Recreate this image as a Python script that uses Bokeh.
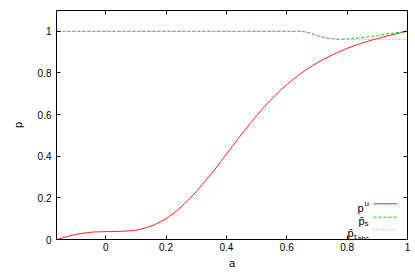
from bokeh.plotting import figure
from bokeh.models import LinearAxis, FixedTicker, Label, Arrow, ColumnDataSource
from bokeh.embed import file_html
from bokeh.resources import INLINE

# ---- data ----
a_vals = [-0.16, -0.14, -0.12, -0.10, -0.08, -0.06, -0.04, -0.02, 0.00, 0.02,
          0.04, 0.06, 0.08, 0.10, 0.12, 0.14, 0.16, 0.18, 0.20, 0.22,
          0.24, 0.26, 0.28, 0.30, 0.32, 0.34, 0.36, 0.38, 0.40, 0.42,
          0.44, 0.46, 0.48, 0.50, 0.52, 0.54, 0.56, 0.58, 0.60, 0.62,
          0.64, 0.66, 0.68, 0.70, 0.72, 0.74, 0.76, 0.78, 0.80, 0.82,
          0.84, 0.86, 0.88, 0.90, 0.92, 0.94, 0.96, 0.98, 1.00]
p_u = [0.000, 0.009, 0.017, 0.024, 0.029, 0.033, 0.036, 0.037, 0.038, 0.038,
       0.039, 0.040, 0.042, 0.045, 0.051, 0.059, 0.070, 0.084, 0.100, 0.120,
       0.143, 0.170, 0.199, 0.230, 0.263, 0.298, 0.334, 0.372, 0.410, 0.448,
       0.486, 0.523, 0.560, 0.595, 0.628, 0.660, 0.690, 0.718, 0.744, 0.768,
       0.790, 0.811, 0.830, 0.848, 0.864, 0.879, 0.893, 0.906, 0.918, 0.929,
       0.939, 0.948, 0.957, 0.965, 0.973, 0.980, 0.987, 0.994, 1.000]
p_s = [1.0] * 41 + [0.998, 0.990, 0.980, 0.972, 0.966, 0.963, 0.962, 0.963, 0.965,
                    0.968, 0.972, 0.976, 0.980, 0.985, 0.989, 0.993, 0.997, 1.000]
p_tau = [1.0] * 41 + [0.998, 0.990, 0.980, 0.972, 0.966, 0.963, 0.962, 0.962, 0.962,
                      0.962, 0.962, 0.962, 0.962, 0.962, 0.962, 0.962, 0.962, 0.962]

x_ticks = [0, 0.2, 0.4, 0.6, 0.8, 1]
x_tick_labels = ["0", "0.2", "0.4", "0.6", "0.8", "1"]
y_ticks = [0, 0.2, 0.4, 0.6, 0.8, 1]
y_tick_labels = ["0", "0.2", "0.4", "0.6", "0.8", "1"]

src = ColumnDataSource(dict(a=a_vals, pu=p_u, ps=p_s, pt=p_tau))

FONT = "Liberation Sans"
RED, GREEN, MAG = "#ff2020", "#00e000", "#ff40ff"

p = figure(frame_width=351, frame_height=229, x_range=(-0.163, 1.0), y_range=(0, 1.1),
           output_backend="svg", toolbar_location=None,
           min_border_left=56, min_border_right=6, min_border_top=10, min_border_bottom=28,
           x_axis_label="a", y_axis_label="p")
p.grid.visible = False
p.outline_line_color = "#000000"
p.outline_line_width = 1
p.background_fill_color = "white"
p.border_fill_color = "white"

for ax, ticks, labels in ((p.xaxis[0], x_ticks, x_tick_labels), (p.yaxis[0], y_ticks, y_tick_labels)):
    ax.ticker = FixedTicker(ticks=ticks)
    ax.major_label_overrides = {t: l for t, l in zip(ticks, labels)}
    ax.major_tick_in = 4
    ax.major_tick_out = 0
    ax.minor_tick_line_color = None
    ax.axis_line_color = None
    ax.major_tick_line_color = "#000000"
    ax.major_label_text_font = FONT
    ax.major_label_text_font_size = "10px"
    ax.major_label_text_color = "#000000"
    ax.axis_label_text_font = FONT
    ax.axis_label_text_font_size = "11px"
    ax.axis_label_text_font_style = "normal"
    ax.axis_label_text_color = "#000000"

p.xaxis[0].major_label_standoff = 3
p.xaxis[0].axis_label_standoff = 3
p.yaxis[0].major_label_standoff = 5
p.yaxis[0].axis_label_standoff = 11

# mirror ticks on top and right (no labels)
for loc, ticks in (("above", x_ticks), ("right", y_ticks)):
    ax = LinearAxis(ticker=FixedTicker(ticks=ticks))
    ax.major_label_text_font_size = "0px"
    ax.major_label_text_color = None
    ax.major_label_standoff = 0
    ax.major_tick_in = 4
    ax.major_tick_out = 0
    ax.minor_tick_line_color = None
    ax.axis_line_color = None
    ax.major_tick_line_color = "#000000"
    p.add_layout(ax, loc)

p.line("a", "pu", source=src, line_color=RED, line_width=1)
p.line("a", "ps", source=src, line_color=GREEN, line_width=1, line_dash="3 2")
p.line("a", "pt", source=src, line_color=MAG, line_width=1, line_dash="1 2")

# legend (gnuplot style: text left of sample)
def lab(text, x, y, size):
    p.add_layout(Label(x=x, y=y, x_units="screen", y_units="screen", text=text,
                       text_font=FONT, text_font_size=size, text_align="left",
                       text_baseline="alphabetic", text_color="#000000"))

lab("p", 301, 32, "11px")
lab("u", 308, 36, "8px")
lab("p\u0304", 302, 19, "11px")
lab("s", 308, 16, "8px")
lab("p\u0304", 291, 7, "11px")
lab("\u03c4", 297, 3, "8px")
lab("abc", 301, 1, "7px")

for yy, col, dash in ((35.7, RED, "solid"), (22.3, GREEN, "3 2"), (9.7, MAG, "1 2")):
    p.add_layout(Arrow(end=None, x_start=317, y_start=yy, x_end=341, y_end=yy,
                       start_units="screen", end_units="screen",
                       line_color=col, line_width=1, line_dash=dash))

open("out.html", "w").write(file_html(p, INLINE))
